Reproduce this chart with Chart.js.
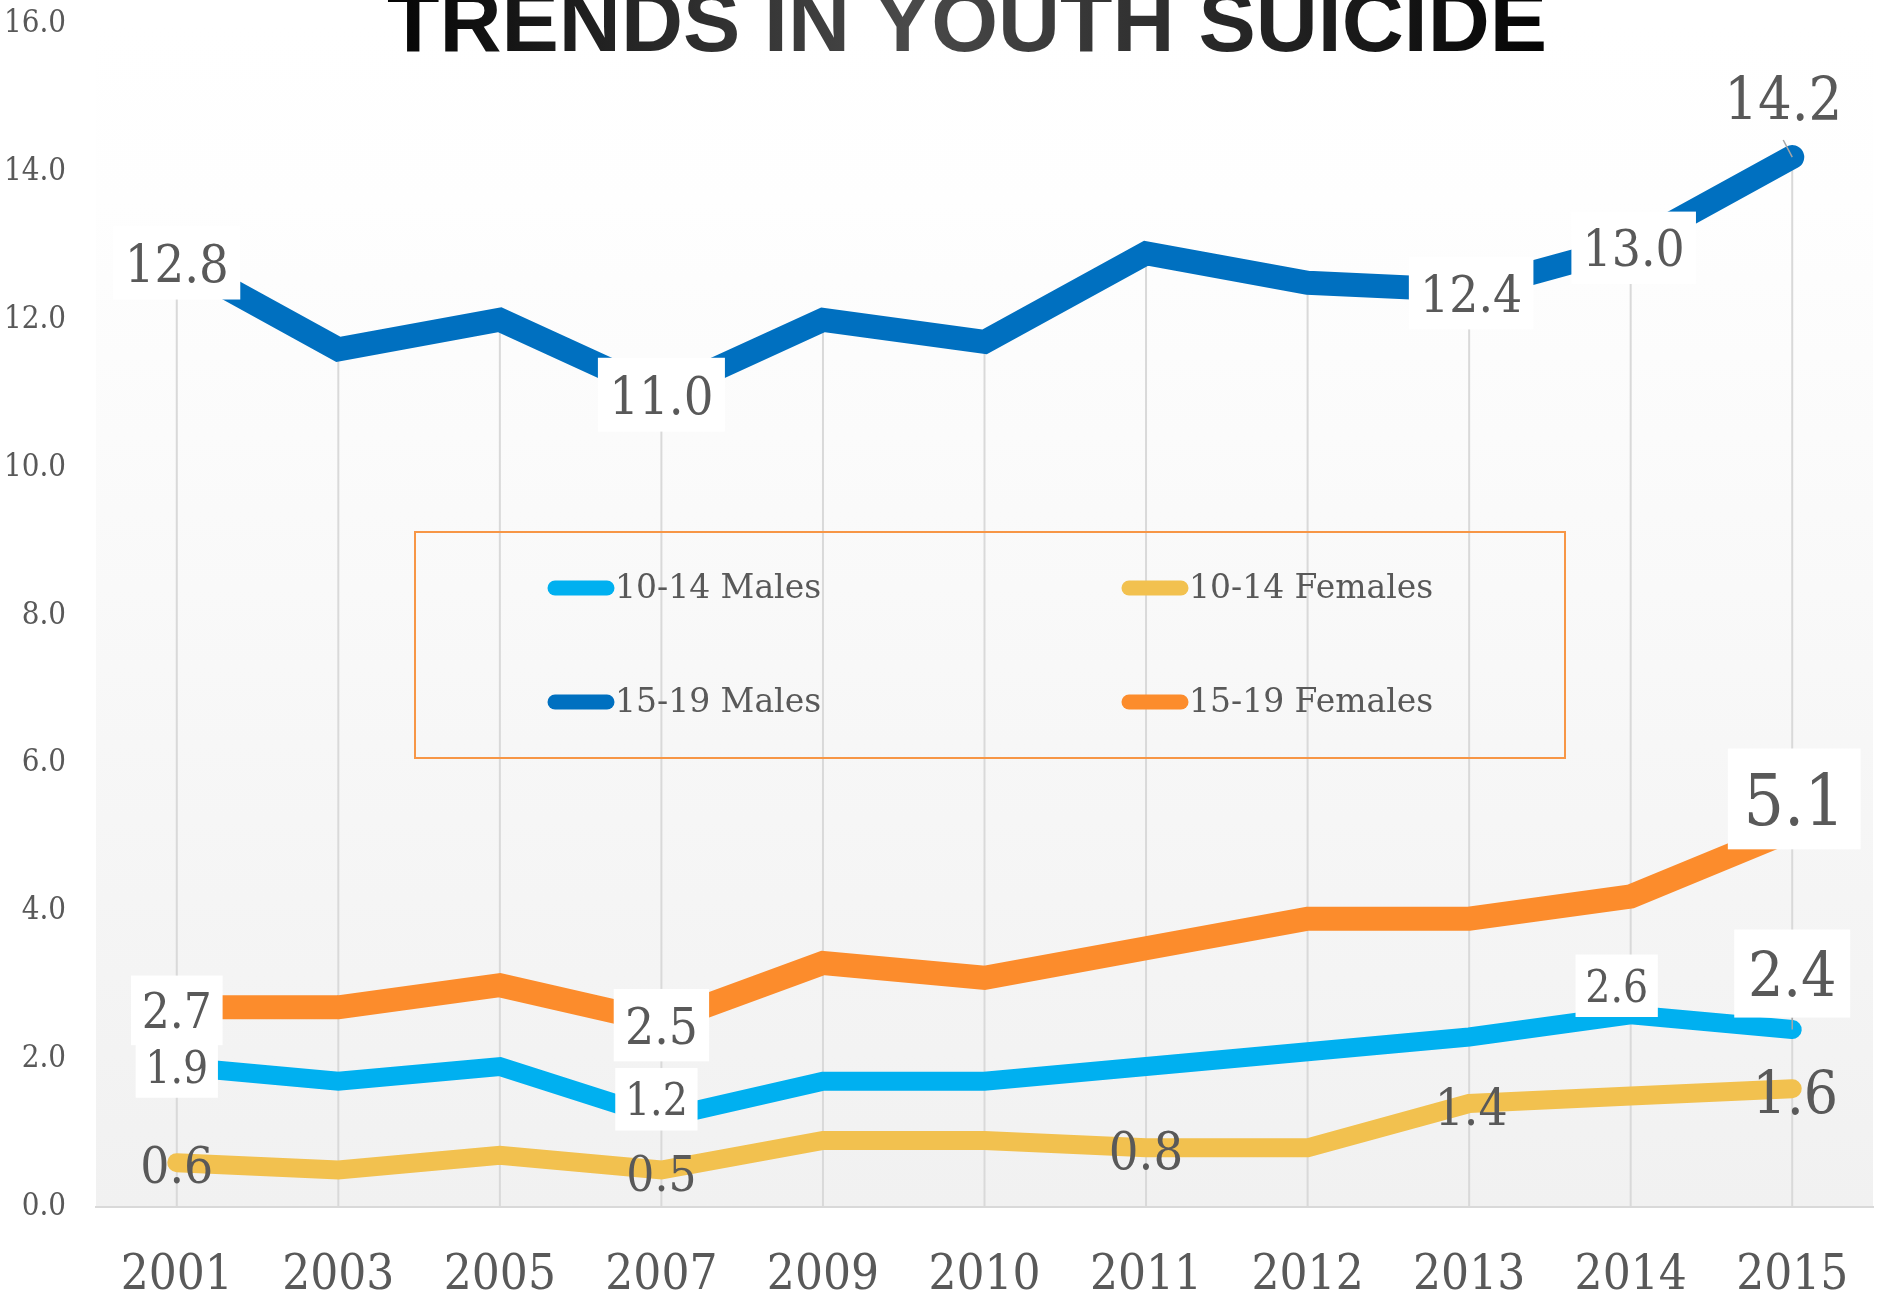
<!DOCTYPE html>
<html>
<head>
<meta charset="utf-8">
<script src="https://cdn.jsdelivr.net/npm/chart.js@4.4.1/dist/chart.umd.min.js"></script>
<style>
  html, body { margin: 0; padding: 0; background: #fff; }
  #wrap { width: 1878px; height: 1300px; }
</style>
</head>
<body>
<div id="wrap"><canvas id="trendChart" width="1878" height="1300"></canvas></div>
<script>
// Suicide rates per 100,000 by age group and sex
const years = ['2001', '2003', '2005', '2007', '2009', '2010', '2011', '2012', '2013', '2014', '2015'];
const males1014 = [1.9, 1.7, 1.9, 1.2, 1.7, 1.7, 1.9, 2.1, 2.3, 2.6, 2.4];
const females1014 = [0.6, 0.5, 0.7, 0.5, 0.9, 0.9, 0.8, 0.8, 1.4, 1.5, 1.6];
const males1519 = [12.8, 11.6, 12.0, 11.0, 12.0, 11.7, 12.9, 12.5, 12.4, 13.0, 14.2];
const females1519 = [2.7, 2.7, 3.0, 2.5, 3.3, 3.1, 3.5, 3.9, 3.9, 4.2, 5.1];
const yMin = 0, yMax = 16, yStep = 2;

const SERIF = "'DejaVu Serif Condensed', 'DejaVu Serif', serif";
const GREY = '#595959';

// which points get a value label (ds = dataset index, i = point index)
const labelSpecs = [
  { ds: 0, i: 0, size: 44, box: true, dx: 0, dy: 0 },
  { ds: 0, i: 3, size: 44, box: true, dx: -5, dy: -19 },
  { ds: 0, i: 9, size: 44, box: true, dx: -14, dy: -29 },
  { ds: 0, i: 10, size: 62, box: true, dx: 0, dy: -56, lead: true },
  { ds: 1, i: 0, size: 51, dx: 0, dy: 2 },
  { ds: 1, i: 3, size: 49, dx: 0, dy: 3 },
  { ds: 1, i: 6, size: 52, dx: 0, dy: 2 },
  { ds: 1, i: 8, size: 51, dx: 2, dy: 3 },
  { ds: 1, i: 10, size: 60, dx: 3, dy: 3 },
  { ds: 2, i: 0, size: 52, box: true, dx: 0, dy: 2 },
  { ds: 2, i: 3, size: 52, box: true, dx: 0, dy: 1 },
  { ds: 2, i: 8, size: 51, box: true, dx: 2, dy: 3 },
  { ds: 2, i: 9, size: 51, box: true, dx: 3, dy: 2 },
  { ds: 2, i: 10, size: 59, dx: -9, dy: -59, lead: true },
  { ds: 3, i: 0, size: 49, box: true, dx: 0, dy: 3 },
  { ds: 3, i: 3, size: 51, box: true, dx: 0, dy: 3 },
  { ds: 3, i: 10, size: 71, box: true, dx: 2, dy: -31 }
];

const plotBackground = {
  id: 'plotBackground',
  beforeDraw(chart) {
    const { ctx, chartArea: a } = chart;
    const g = ctx.createLinearGradient(0, a.top, 0, a.bottom);
    g.addColorStop(0, '#ffffff');
    g.addColorStop(0.15, '#fefefe');
    g.addColorStop(1, '#f1f1f1');
    ctx.save();
    ctx.fillStyle = g;
    ctx.fillRect(a.left, a.top, a.right - a.left, a.bottom - a.top);
    ctx.restore();
  }
};

// drop lines: from the highest series at each category down to the axis
const dropLines = {
  id: 'dropLines',
  beforeDatasetsDraw(chart) {
    const { ctx, chartArea: a } = chart;
    const metas = chart.data.datasets.map((d, k) => chart.getDatasetMeta(k));
    ctx.save();
    ctx.strokeStyle = '#d9d9d9';
    ctx.lineWidth = 2;
    chart.data.labels.forEach((l, i) => {
      const top = Math.min(...metas.map(m => m.data[i].y));
      const x = metas[0].data[i].x;
      ctx.beginPath();
      ctx.moveTo(x, top);
      ctx.lineTo(x, a.bottom);
      ctx.stroke();
    });
    ctx.restore();
  }
};

const titlePlugin = {
  id: 'bigTitle',
  afterDraw(chart) {
    const ctx = chart.ctx;
    ctx.save();
    const g = ctx.createLinearGradient(389, 0, 1545, 0);
    g.addColorStop(0, '#050505');
    g.addColorStop(0.45, '#4a4a4a');
    g.addColorStop(1, '#050505');
    ctx.fillStyle = g;
    ctx.font = "bold 86px 'Liberation Sans', Arial, sans-serif";
    ctx.textAlign = 'center';
    ctx.textBaseline = 'alphabetic';
    ctx.fillText('TRENDS IN YOUTH SUICIDE', 967, 51, 1160);
    ctx.restore();
  }
};

const valueLabels = {
  id: 'valueLabels',
  afterDatasetsDraw(chart) {
    const ctx = chart.ctx;
    labelSpecs.forEach(s => {
      const pt = chart.getDatasetMeta(s.ds).data[s.i];
      const txt = chart.data.datasets[s.ds].data[s.i].toFixed(1);
      const cx = pt.x + s.dx, cy = pt.y + s.dy;
      ctx.save();
      ctx.font = s.size + 'px ' + SERIF;
      const w = ctx.measureText(txt).width;
      if (s.lead) {
        ctx.strokeStyle = '#a6a6a6';
        ctx.lineWidth = 1.5;
        ctx.beginPath();
        ctx.moveTo(cx, cy + s.size * 0.71);
        ctx.lineTo(pt.x, pt.y);
        ctx.stroke();
      }
      if (s.box) {
        ctx.fillStyle = '#ffffff';
        ctx.fillRect(cx - w / 2 - s.size * 0.22, cy - s.size * 0.71, w + s.size * 0.44, s.size * 1.42);
      }
      ctx.fillStyle = GREY;
      ctx.textAlign = 'center';
      ctx.textBaseline = 'alphabetic';
      ctx.fillText(txt, cx, cy + s.size * 0.365);
      ctx.restore();
    });
  }
};

const boxLegend = {
  id: 'boxLegend',
  afterDraw(chart) {
    const ctx = chart.ctx;
    ctx.save();
    ctx.strokeStyle = '#f79646';
    ctx.lineWidth = 2;
    ctx.strokeRect(415, 532, 1150, 226);
    const slots = [[548, 588], [1122, 588], [548, 702], [1122, 702]];
    chart.data.datasets.forEach((ds, k) => {
      const [x, y] = slots[k];
      ctx.strokeStyle = ds.borderColor;
      ctx.lineWidth = 15;
      ctx.lineCap = 'round';
      ctx.beginPath();
      ctx.moveTo(x + 7, y);
      ctx.lineTo(x + 59, y);
      ctx.stroke();
      ctx.fillStyle = GREY;
      ctx.font = "33px 'DejaVu Serif', serif";
      ctx.textAlign = 'left';
      ctx.textBaseline = 'middle';
      ctx.fillText(ds.label, x + 67, y + 1);
    });
    ctx.restore();
  }
};

function series(label, data, color, width) {
  return {
    label: label,
    data: data,
    borderColor: color,
    backgroundColor: color,
    borderWidth: width,
    borderCapStyle: 'round',
    borderJoinStyle: 'miter',
    pointRadius: 0,
    tension: 0,
    fill: false
  };
}

new Chart(document.getElementById('trendChart'), {
  type: 'line',
  data: {
    labels: years,
    datasets: [
      series('10-14 Males', males1014, '#00b0f0', 19),
      series('10-14 Females', females1014, '#f2c14f', 19),
      series('15-19 Males', males1519, '#0070c0', 24),
      series('15-19 Females', females1519, '#fc8c2c', 24)
    ]
  },
  options: {
    responsive: false,
    animation: false,
    layout: { padding: { top: 24, right: 5, left: 0, bottom: 0 } },
    plugins: {
      legend: { display: false },
      title: { display: false },
      tooltip: { enabled: false }
    },
    scales: {
      x: {
        offset: true,
        grid: { display: false, drawTicks: false },
        border: { display: true, color: '#d9d9d9', width: 2 },
        ticks: { color: GREY, font: { family: SERIF, size: 49 }, padding: 40, maxRotation: 0, autoSkip: false },
        afterFit: s => { s.height = 93; s.paddingLeft = 0; s.paddingRight = 0; }
      },
      y: {
        min: yMin,
        max: yMax,
        grid: { display: false, drawTicks: false },
        border: { display: false },
        ticks: {
          stepSize: yStep,
          color: GREY,
          padding: 30,
          font: { family: SERIF, size: 31 },
          callback: v => v.toFixed(1)
        },
        afterFit: s => { s.width = 96; s.paddingTop = 0; s.paddingBottom = 0; }
      }
    }
  },
  plugins: [plotBackground, dropLines, valueLabels, boxLegend, titlePlugin]
});
</script>
</body>
</html>
